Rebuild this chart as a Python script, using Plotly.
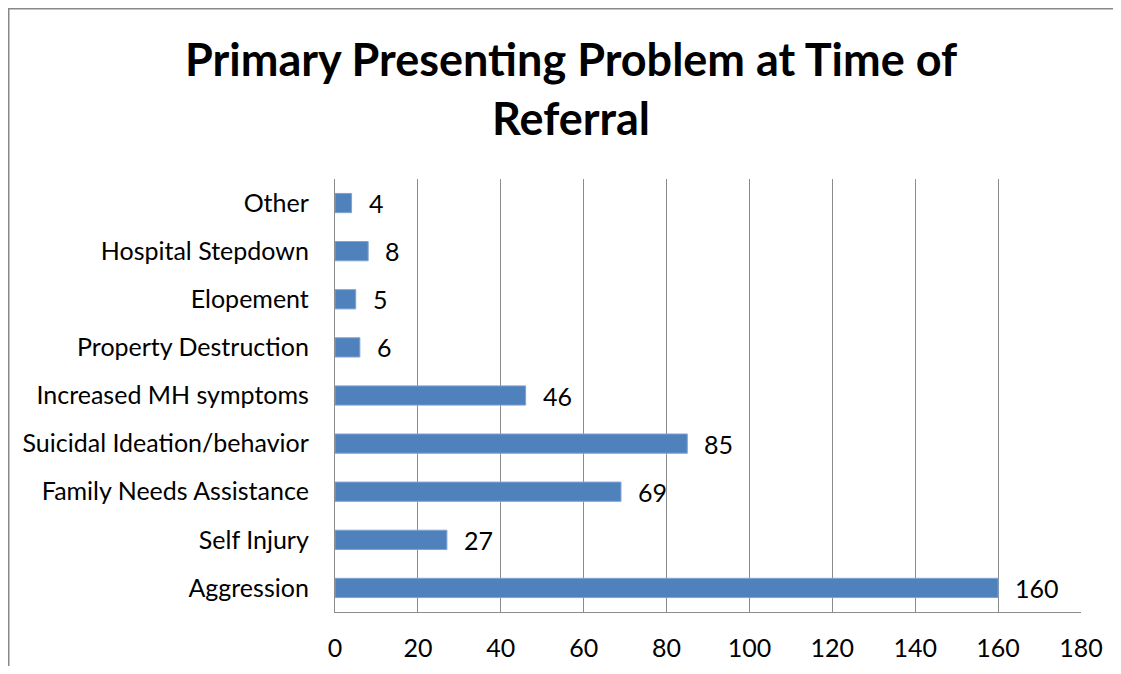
import plotly.graph_objects as go

categories = ["Aggression", "Self Injury", "Family Needs Assistance", "Suicidal Ideation/behavior",
              "Increased MH symptoms", "Property Destruction", "Elopement", "Hospital Stepdown", "Other"]
values = [160, 27, 69, 85, 46, 6, 5, 8, 4]
x_ticks = [0, 20, 40, 60, 80, 100, 120, 140, 160, 180]
title_text = "Primary Presenting Problem at Time of<br>Referral"

FONT = "Lato"
# page body has an 8px margin, so the figure starts at (8, 8) in the window
W, H = 1113, 658
L, R, T, B = 327, 40, 171, 54
pw, ph = W - L - R, H - T - B

fig = go.Figure()
fig.add_trace(go.Bar(
    y=categories, x=values, orientation="h",
    marker=dict(color="#4F81BD", line=dict(color="#7FA3D3", width=1)),
    hoverinfo="x+y",
))

for c, v in zip(categories, values):
    fig.add_annotation(x=v, y=c, xref="x", yref="y", text=str(v), showarrow=False,
                       xanchor="left", yanchor="middle", xshift=15,
                       font=dict(family=FONT, size=25, color="#000000"))

fig.add_annotation(x=(562.5 - L) / pw, y=(H - B - 80.5) / ph, xref="paper", yref="paper",
                   text="<b>" + title_text + "</b>", showarrow=False,
                   xanchor="center", yanchor="middle",
                   font=dict(family=FONT, size=45, color="#000000"))

# outer chart border
fig.add_shape(type="rect", xref="paper", yref="paper",
              x0=(0.75 - L) / pw, x1=(1110 - L) / pw,
              y0=-0.3, y1=(H - B - 0.75) / ph,
              line=dict(color="#888888", width=1.5), fillcolor="rgba(0,0,0,0)", layer="below")

fig.update_layout(
    width=W, height=H,
    margin=dict(l=L, r=R, t=T, b=B, autoexpand=False),
    paper_bgcolor="white", plot_bgcolor="white",
    bargap=0.6, showlegend=False,
    font=dict(family=FONT, size=25, color="#000000"),
)
fig.update_xaxes(range=[0, 180], tickvals=x_ticks, ticktext=[str(t) for t in x_ticks],
                 showgrid=True, gridcolor="#8c8c8c", gridwidth=1.3,
                 showline=True, linecolor="#8c8c8c", linewidth=1.3,
                 zeroline=False, ticks="", ticklabelstandoff=14, fixedrange=True)
fig.update_yaxes(categoryorder="array", categoryarray=categories,
                 showgrid=False, showline=True, linecolor="#8c8c8c", linewidth=1.3,
                 ticks="", ticklabelstandoff=20, fixedrange=True)

fig.write_html("out.html")
